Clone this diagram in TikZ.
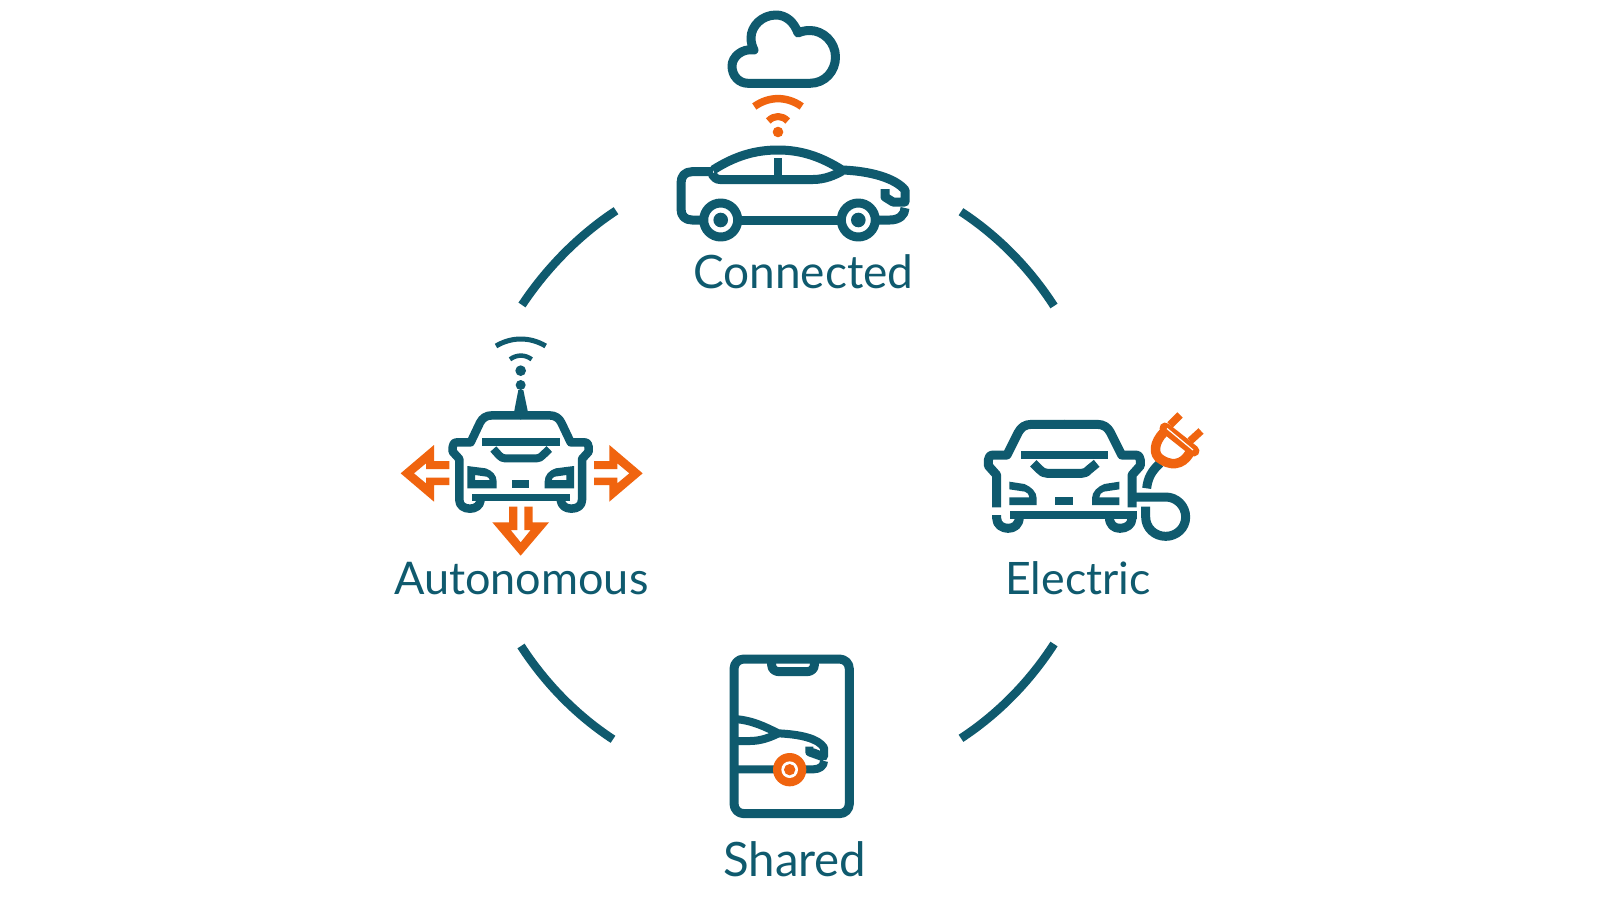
\documentclass[tikz,border=0pt]{standalone}
\usepackage{fontspec}
\setmainfont{Lato}
\definecolor{teal}{HTML}{0F5A6E}
\definecolor{orng}{HTML}{F0640F}
\tikzset{
  ln/.style={draw=teal,line width=9pt,line join=round,fill=none},
  tf/.style={fill=teal,draw=none},
  of/.style={fill=orng,draw=none},
  oln/.style={draw=orng,line join=round,fill=none},
  lab/.style={text=teal,anchor=base west,inner sep=0pt,font=\fontsize{#1}{46}\selectfont},
  ring/.style={draw=teal,line width=8.5pt}
}
\newcommand{\autocarhalf}{%
  \draw[ln,line width=8.5pt] (1,271) -- (-85,271) .. controls (-105,271) and (-115,280) .. (-122,293) -- (-150,352) -- (-190,352) .. controls (-200,352) and (-204,358) .. (-204,366) -- (-204,380) -- (-184,402) -- (-184,525) .. controls (-184,542) and (-170,551) .. (-152,551) .. controls (-135,551) and (-122,542) .. (-120,525);
  \fill[tf,even odd rule] (-160,423) -- (-105,430) .. controls (-85,437) and (-72,450) .. (-72,470) -- (-72,490) -- (-160,490) -- cycle
     (-137,450) -- (-102,455) .. controls (-97,457) and (-94,460) .. (-93,465) -- (-137,465) -- cycle;
}
\newcommand{\eleccarhalf}{%
  \draw[ln] (1,73) -- (-98,73) .. controls (-118,73) and (-130,82) .. (-138,97) -- (-172,165) -- (-213,165) .. controls (-223,165) and (-228,172) .. (-228,180) -- (-228,197) -- (-203,225) -- (-203,322);
  \fill[tf] (-165,245) -- (-120,252) .. controls (-100,260) and (-83,275) .. (-83,295) -- (-83,315) -- (-165,315) -- (-165,292) -- (-105,292) .. controls (-106,283) and (-110,278) .. (-118,275) -- (-165,268) -- cycle;
}
\begin{document}
\begin{tikzpicture}[x=1pt,y=-1pt]
\useasboundingbox (0,0) rectangle (1600,900);
\fill[white] (0,0) rectangle (1600,900);

% ---- ring arcs
\coordinate (tra) at (961,211.7); \coordinate (trb) at (1054,306);
\coordinate (tla) at (616,210.7); \coordinate (tlb) at (522,305);
\coordinate (bra) at (961,738.3); \coordinate (brb) at (1054,644);
\coordinate (bla) at (613,739.3); \coordinate (blb) at (521,646);
\draw[ring] (tra) .. controls (997.9,235.9) and (1029.6,268.2) .. (trb);
\draw[ring] (tla) .. controls (579.1,234.9) and (546.4,268.2) .. (tlb);
\draw[ring] (bra) .. controls (997.9,714.1) and (1029.6,681.8) .. (brb);
\draw[ring] (bla) .. controls (576.1,715.1) and (545,683) .. (blb);

% ---- Connected
\draw[ln] (748,83.3) -- (810,83.3) .. controls (825,83.3) and (835.5,71) .. (835.5,57) .. controls (835.5,42) and (823,30.5) .. (810,30.5) .. controls (805,30.5) and (801,31.5) .. (798,33) .. controls (794,22) and (786,15) .. (776,15) .. controls (762,15) and (751,26) .. (751,38) .. controls (751,42) and (752,46) .. (754,50) .. controls (742,48) and (732,57) .. (732,66) .. controls (732,76) and (739,83.3) .. (748,83.3) -- cycle;
\draw[oln,line width=7.5pt] (754.3,106.5) .. controls (769,96) and (787,96) .. (801.7,106.5);
\draw[oln,line width=7pt] (768.3,121) .. controls (774,115) and (782,115) .. (787.7,121);
\fill[of] (778,132) circle[radius=5.3];
% car
\draw[ln] (713,170) .. controls (735,156) and (755,150) .. (778,150) .. controls (800,150) and (820,156) .. (842,170) .. controls (870,171) and (895,178) .. (905,190) -- (905,202) -- (893,202) -- (885,197) -- (885,189);
\draw[ln] (713,171.7) -- (692,171.7) .. controls (685,171.7) and (681,176) .. (681,183) -- (681,209) .. controls (681,216) and (685,220) .. (692,220) -- (704,220);
\draw[ln] (738,220) -- (841,220);
\draw[ln] (875,220) -- (890,220) .. controls (899,220) and (905,215) .. (905,208);
\draw[ln] (712,174) .. controls (714,177) and (716,179.5) .. (720,179.5) -- (813,179.5) .. controls (825,179.5) and (835,175) .. (842,171);
\draw[ln,line width=8pt] (778,158) -- (778,178);
\draw[ln] (720.7,220) circle[radius=17];
\draw[ln] (858.3,220) circle[radius=17];
\fill[tf] (720.7,220) circle[radius=7.3];
\fill[tf] (858.3,220) circle[radius=7.3];
\node[lab=46] (connected) at (693,288.7) {Connected};

% ---- Autonomous
\begin{scope}[shift={(390,325)},x=0.33333pt,y=-0.33333pt]
  \begin{scope}[shift={(392,0)}]
    \autocarhalf
    \begin{scope}[xscale=-1]\autocarhalf\end{scope}
  \end{scope}
  \fill[tf] (275,340) rectangle (510,364);
  \fill[tf] (366,465) rectangle (418,490);
  \fill[tf] (245,506) rectangle (540,528);
  \draw[ln,line width=8pt] (310,372) -- (328,392) .. controls (333,397) and (338,400) .. (345,400) -- (440,400) .. controls (447,400) and (452,397) .. (457,392) -- (478,372);
  % antenna
  \fill[tf] (372,262) -- (385,195) -- (400,195) -- (414,262) -- cycle;
  \fill[tf] (392,180) circle[radius=15];
  \fill[tf] (392,137) circle[radius=16];
  \draw[ln,line width=4.5pt] (360,103) .. controls (380,88) and (405,88) .. (425,103);
  \draw[ln,line width=5pt] (318,63) .. controls (365,35) and (420,35) .. (467,63);
  % arrows
  \fill[of] (32,445) -- (132,360) -- (132,408) -- (178,408) -- (178,432) -- (108,432) -- (108,415) -- (72,445) -- (108,475) -- (108,458) -- (178,458) -- (178,480) -- (132,480) -- (132,530) -- cycle;
  \fill[of] (758,445) -- (658,360) -- (658,408) -- (612,408) -- (612,432) -- (682,432) -- (682,415) -- (718,445) -- (682,475) -- (682,458) -- (612,458) -- (612,480) -- (658,480) -- (658,530) -- cycle;
  \fill[of] (392,692) -- (307,592) -- (357,592) -- (357,545) -- (382,545) -- (382,615) -- (362,615) -- (392,652) -- (422,615) -- (403,615) -- (403,545) -- (428,545) -- (428,592) -- (477,592) -- cycle;
\end{scope}
\node[lab=45] (autonomous) at (394,594.7) {Autonomous};

% ---- Electric
\begin{scope}[shift={(970,400)},x=0.33333pt,y=-0.33333pt]
  \begin{scope}[shift={(283,0)}]
    \eleccarhalf
    \begin{scope}[xscale=-1]\eleccarhalf\end{scope}
  \end{scope}
  \fill[tf] (153,153) rectangle (413,177);
  \fill[tf] (255,292) rectangle (310,315);
  \fill[tf] (120,333) rectangle (500,357);
  \draw[ln] (190,190) -- (208,208) .. controls (215,216) and (222,220) .. (232,220) -- (335,220) .. controls (345,220) and (352,216) .. (358,208) -- (380,190);
  \draw[ln] (80,345) -- (80,355) .. controls (80,375) and (98,385) .. (114,385) .. controls (132,385) and (148,375) .. (148,350);
  \draw[ln] (486,345) -- (486,355) .. controls (486,375) and (468,385) .. (450,385) .. controls (432,385) and (418,375) .. (418,350);
  % cable
  \draw[ln] (495,291) -- (587,291) .. controls (620,291) and (647,318) .. (647,351) .. controls (647,384) and (620,409) .. (587,409) .. controls (554,409) and (527,384) .. (527,351) -- (527,320);
  \draw[ln] (530,265) .. controls (533,235) and (545,212) .. (570,190);
\end{scope}
% plug
\draw[oln,line width=9.5pt] (1164,432) .. controls (1154,442) and (1152,455) .. (1162,460) .. controls (1175,468) and (1186,462) .. (1191,450);
\draw[oln,line width=11pt,line cap=round] (1165,428) -- (1194,451);
\draw[oln,line width=7.5pt] (1170,425) -- (1180,415);
\draw[oln,line width=7.5pt] (1190,441) -- (1201,431);
\draw[white,line width=1.2pt] (1167,428.5) -- (1193,450);
\node[lab=44.7] (electric) at (1005,594.7) {Electric};

% ---- Shared
\begin{scope}[shift={(710,645)},x=0.33333pt,y=-0.33333pt]
  \draw[ln] (102,42) -- (388,42) .. controls (405,42) and (418,55) .. (418,72) -- (418,476) .. controls (418,493) and (405,506) .. (388,506) -- (102,506) .. controls (85,506) and (72,493) .. (72,476) -- (72,72) .. controls (72,55) and (85,42) .. (102,42) -- cycle;
  \draw[ln] (185,42) -- (185,60) .. controls (185,72) and (195,80) .. (207,80) -- (291,80) .. controls (303,80) and (313,72) .. (313,60) -- (313,42);
  \draw[ln,line width=8pt] (72,222) .. controls (125,225) and (165,245) .. (205,265) .. controls (270,268) and (325,280) .. (342,308) -- (342,335) -- (310,322) -- (298,322);
  \draw[ln,line width=8pt] (298,305) -- (298,322) -- (342,338);
  \draw[ln,line width=8pt] (72,288) -- (120,288) .. controls (150,288) and (180,278) .. (205,265);
  \draw[ln,line width=8pt] (72,373) -- (310,373) .. controls (330,373) and (342,362) .. (342,348);
  \fill[of] (239,374) circle[radius=50];
  \fill[white] (239,374) circle[radius=25];
  \fill[of] (239,374) circle[radius=17];
\end{scope}
\node[lab=47.4] (shared) at (723,876) {Shared};
\end{tikzpicture}
\end{document}
